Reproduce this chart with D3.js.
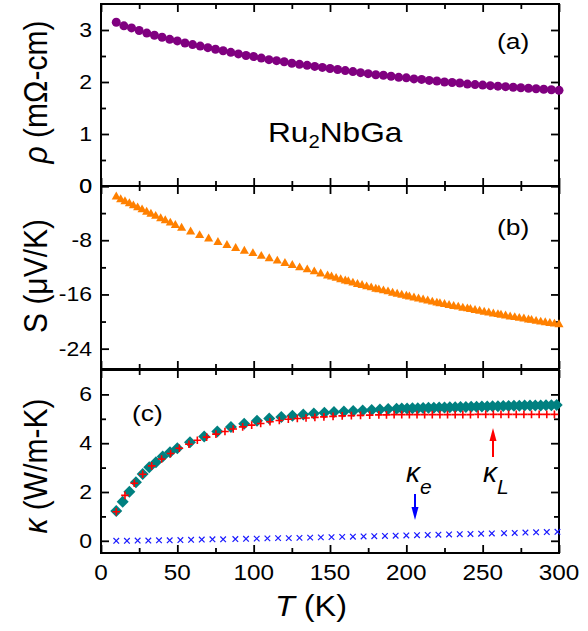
<!DOCTYPE html>
<html><head><meta charset="utf-8">
<script src="https://cdn.jsdelivr.net/npm/d3@7"></script>
<style>
body{margin:0;background:#fff;}
svg{display:block;}
text{font-family:"Liberation Sans",Arial,sans-serif;fill:#000;}
</style></head><body>
<svg id="chart" width="588" height="631"></svg>
<script>
// ---------- data ----------
const T_rho = [10,15,20,25,30,35,40,45,50,55,60,65,70,75,80,85,90,95,100,105,110,115,120,125,130,135,140,145,150,155,160,165,170,175,180,185,190,195,200,205,210,215,220,225,230,235,240,245,250,255,260,265,270,275,280,285,290,295,300];
const rho = [3.15,3.08,3.04,2.99,2.94,2.90,2.86,2.82,2.79,2.75,2.72,2.69,2.66,2.63,2.60,2.57,2.54,2.51,2.49,2.46,2.43,2.41,2.39,2.36,2.34,2.32,2.30,2.28,2.26,2.24,2.22,2.20,2.18,2.16,2.14,2.13,2.11,2.09,2.08,2.06,2.05,2.03,2.02,2.00,1.99,1.98,1.96,1.95,1.94,1.93,1.92,1.91,1.90,1.89,1.88,1.87,1.86,1.85,1.84];

const T_S = [10,12.9,15.7,18.6,21.2,24,26.9,29.9,32.7,35.8,39.1,42.1,45.4,48.7,52.8,58.7,64.6,70.5,76.6,82.5,88.2,93.9,99.5,105,110.2,115.5,120.5,125.3,130.1,135.1,139.7,143.9,148.4,151,154,157,160,162,165,168,171,174,177,180,182,185,188,191,194,197,200,202,205,208,211,214,217,220,222,225,228,231,234,237,240,242,245,248,251,254,257,260,262,265,268,271,274,277,280,282,285,288,291,294,297,300];
const S = [-1.6,-2.0,-2.3,-2.6,-2.9,-3.2,-3.5,-3.85,-4.15,-4.45,-4.8,-5.1,-5.45,-5.8,-6.2,-6.75,-7.3,-7.8,-8.3,-8.75,-9.2,-9.6,-9.95,-10.35,-10.7,-11.05,-11.4,-11.7,-12.05,-12.35,-12.65,-12.95,-13.25,-13.4,-13.6,-13.8,-14.0,-14.1,-14.3,-14.5,-14.65,-14.85,-15.0,-15.2,-15.3,-15.45,-15.6,-15.8,-15.95,-16.1,-16.25,-16.35,-16.5,-16.65,-16.8,-16.95,-17.1,-17.25,-17.35,-17.45,-17.6,-17.75,-17.85,-18.0,-18.1,-18.2,-18.35,-18.45,-18.6,-18.7,-18.85,-18.95,-19.05,-19.15,-19.3,-19.4,-19.5,-19.6,-19.75,-19.8,-19.95,-20.05,-20.15,-20.25,-20.35,-20.45];

const T_kappa = [10,14.2,18.6,22.9,27.3,31.6,36,40.4,45.2,50,58.3,67.6,76.2,85.1,93.8,102.2,110.2,118.1,125.4,132.5,139.4,146.3,152.6,159.1,165.2,171.4,177.3,182.7,188.1,193.6,197,200.5,204,207.5,211,214.5,218,221.5,225,228.5,232,235.5,239,242.5,246,249.5,253,256.5,260,263.5,267,270.5,274,277.5,281,284.5,288,291.5,295,298.5];
const kappa = [1.22,1.60,2.01,2.40,2.74,3.01,3.22,3.45,3.63,3.79,4.04,4.27,4.48,4.66,4.80,4.92,5.01,5.07,5.13,5.18,5.22,5.25,5.28,5.30,5.32,5.34,5.36,5.38,5.40,5.41,5.42,5.42,5.43,5.43,5.44,5.45,5.45,5.46,5.46,5.47,5.47,5.48,5.48,5.49,5.49,5.50,5.50,5.51,5.51,5.52,5.52,5.53,5.53,5.54,5.54,5.55,5.55,5.56,5.56,5.57];

const T_kL = [10,15.7,21.8,27.3,33.2,39.7,45.6,51.3,57.6,63.1,69.2,75.3,81.2,86.6,92.8,98.7,104.6,110.7,116.8,122.7,128.6,134.3,140.1,146,152,158,164,170,176,182,187,192,197,202,207,212,217,222,227,232,237,242,247,252,257,262,267,272,277,282,287,292,297];
const kL = [1.19,1.86,2.36,2.73,3.07,3.35,3.58,3.79,3.96,4.12,4.25,4.37,4.48,4.58,4.67,4.74,4.81,4.88,4.93,4.98,5.01,5.03,5.06,5.08,5.10,5.12,5.13,5.14,5.15,5.16,5.16,5.17,5.17,5.17,5.17,5.17,5.17,5.17,5.17,5.17,5.17,5.17,5.18,5.18,5.18,5.18,5.18,5.18,5.18,5.18,5.18,5.18,5.18];

const T_ke = [10,17,24,31,38,45,52,59,66,73,80,88,95,102,109,116,123,130,137,144,151,158,165,172,179,186,193,200,207,214,221,228,235,242,249,256,264,271,278,285,292,299];
const ke = [0.00,0.00,0.01,0.01,0.02,0.02,0.03,0.04,0.05,0.06,0.06,0.07,0.08,0.09,0.10,0.11,0.11,0.12,0.13,0.14,0.15,0.16,0.17,0.18,0.19,0.20,0.21,0.22,0.23,0.24,0.25,0.26,0.27,0.28,0.29,0.30,0.31,0.32,0.34,0.35,0.36,0.37];

const xTicks = [0,50,100,150,200,250,300];
const xMinor = [25,75,125,175,225,275];
const rhoTicks = [0,1,2,3];
const rhoMinor = [0.5,1.5,2.5];
const sTicks = [-24,-16,-8,0];
const sTickLabels = ["-24","-16","-8","0"];
const sMinor = [-20,-12,-4];
const kTicks = [0,2,4,6];
const kMinor = [1,3,5];

// ---------- layout ----------
const svg = d3.select("#chart");
const x = d3.scaleLinear().domain([0,300]).range([101,559]);
const yA = d3.scaleLinear().domain([0,3.5]).range([186,4]);
const yB = d3.scaleLinear().domain([-27,0]).range([369,186]);
const yC = d3.scaleLinear().domain([-0.5,7]).range([553,370]);

const MAJ = 8, MIN = 5;

function txt(g, px, py, anchor, size, sx){
  return g.append("text")
    .attr("transform", `translate(${px},${py}) scale(${sx},1)`)
    .attr("text-anchor", anchor)
    .attr("font-size", size);
}

function panel(y, major, minor, labels, showX){
  const g = svg.append("g");
  const x0 = x.range()[0], x1 = x.range()[1];
  const [yb, yt] = y.range();
  const axes = [
    [d3.axisLeft(y).tickValues(major).tickSize(-MAJ), `translate(${x0},0)`],
    [d3.axisLeft(y).tickValues(minor).tickSize(-MIN), `translate(${x0},0)`],
    [d3.axisRight(y).tickValues(major).tickSize(-MAJ), `translate(${x1},0)`],
    [d3.axisRight(y).tickValues(minor).tickSize(-MIN), `translate(${x1},0)`],
    [d3.axisBottom(x).tickValues(xTicks).tickSize(-MAJ), `translate(0,${yb})`],
    [d3.axisBottom(x).tickValues(xMinor).tickSize(-MIN), `translate(0,${yb})`],
    [d3.axisTop(x).tickValues(xTicks).tickSize(-MAJ), `translate(0,${yt})`],
    [d3.axisTop(x).tickValues(xMinor).tickSize(-MIN), `translate(0,${yt})`]
  ];
  axes.forEach(([ax, tr]) => {
    const a = g.append("g").attr("transform", tr).call(ax.tickFormat("").tickSizeOuter(0));
    a.select(".domain").remove();
    a.selectAll("line").attr("stroke","#000").attr("stroke-width",1.8);
  });
  g.append("rect").attr("x",x0).attr("y",yt).attr("width",x1-x0).attr("height",yb-yt)
    .attr("fill","none").attr("stroke","#000").attr("stroke-width",2);
  major.forEach((v,i) => {
    txt(g, 92, y(v), "end", 19.5, 1.18).attr("dy","0.36em").text(labels[i]);
  });
  if(showX){
    xTicks.forEach(v => {
      txt(g, x(v), 580, "middle", 21.5, 1.13).text(String(v));
    });
  }
  return g;
}

const gA = panel(yA, rhoTicks, rhoMinor, rhoTicks.map(String), false);
const gB = panel(yB, sTicks, sMinor, sTickLabels, false);
const gC = panel(yC, kTicks, kMinor, kTicks.map(String), true);

// ---------- marks ----------
gA.append("g").selectAll("circle").data(T_rho).join("circle")
  .attr("cx", d => x(d)).attr("cy", (d,i) => yA(rho[i])).attr("r", 4.5)
  .attr("fill", "#800080");

const tri = d3.symbol().type(d3.symbolTriangle).size(36);
gB.append("g").selectAll("path").data(T_S).join("path")
  .attr("transform", (d,i) => `translate(${x(d)},${yB(S[i])})`)
  .attr("d", tri).attr("fill", "#ff8000");

gC.append("g").selectAll("path").data(T_kappa).join("path")
  .attr("transform", (d,i) => `translate(${x(d)},${yC(kappa[i])})`)
  .attr("d", "M0,-6L6,0L0,6L-6,0Z").attr("fill", "#008080");

gC.append("g").selectAll("path").data(T_kL).join("path")
  .attr("transform", (d,i) => `translate(${x(d)},${yC(kL[i])})`)
  .attr("d", "M-3.8,0H3.8M0,-3.8V3.8").attr("stroke", "#ff0000").attr("stroke-width", 1.6).attr("fill","none");

gC.append("g").selectAll("path").data(T_ke).join("path")
  .attr("transform", (d,i) => `translate(${x(d)},${yC(ke[i])})`)
  .attr("d", "M-2.8,-2.8L2.8,2.8M-2.8,2.8L2.8,-2.8").attr("stroke", "#1a1aff").attr("stroke-width", 1.2).attr("fill","none");

// ---------- annotations ----------
txt(svg, 497, 49, "start", 22, 1.2).text("(a)");
txt(svg, 497, 235, "start", 22, 1.2).text("(b)");
txt(svg, 132, 421, "start", 22, 1.2).text("(c)");

const ru = txt(svg, 268, 142, "start", 28, 1.13);
ru.append("tspan").text("Ru");
ru.append("tspan").attr("font-size", 18).attr("dy", 6).text("2");
ru.append("tspan").attr("dy", -6).text("NbGa");

const ke_t = txt(svg, 406, 482, "start", 28, 1.0);
ke_t.append("tspan").attr("font-style","italic").text("κ");
ke_t.append("tspan").attr("font-style","italic").attr("font-size", 21).attr("dy", 12).text("e");
const kl_t = txt(svg, 483, 482, "start", 28, 1.0);
kl_t.append("tspan").attr("font-style","italic").text("κ");
kl_t.append("tspan").attr("font-style","italic").attr("font-size", 21).attr("dy", 12).text("L");

// arrows
function arrow(xp, yFrom, yTo, color){
  const dir = yTo > yFrom ? 1 : -1;
  svg.append("line").attr("x1", xp).attr("x2", xp).attr("y1", yFrom).attr("y2", yTo - dir*10)
    .attr("stroke", color).attr("stroke-width", 2);
  svg.append("path").attr("d", `M${xp-3.5},${yTo - dir*13}L${xp+3.5},${yTo - dir*13}L${xp},${yTo}Z`).attr("fill", color);
}
arrow(415, 494, 520, "#0000ff");
arrow(493, 457, 428, "#ff0000");

// axis titles
function ytitle(cy, parts){
  const t = svg.append("text").attr("transform", `translate(47,${cy}) rotate(-90) scale(1,1.12)`)
    .attr("text-anchor","middle").attr("font-size", 30);
  parts.forEach(([s, it]) => t.append("tspan").attr("font-style", it ? "italic" : "normal").text(s));
}
ytitle(92, [["ρ", true], [" (mΩ-cm)", false]]);
ytitle(276, [["S", false], [" (μV/K)", false]]);
ytitle(466, [["κ", true], [" (W/m-K)", false]]);

const xt = txt(svg, 311, 616, "middle", 29, 1.12);
xt.append("tspan").attr("font-style","italic").text("T");
xt.append("tspan").text(" (K)");
</script>
</body></html>
